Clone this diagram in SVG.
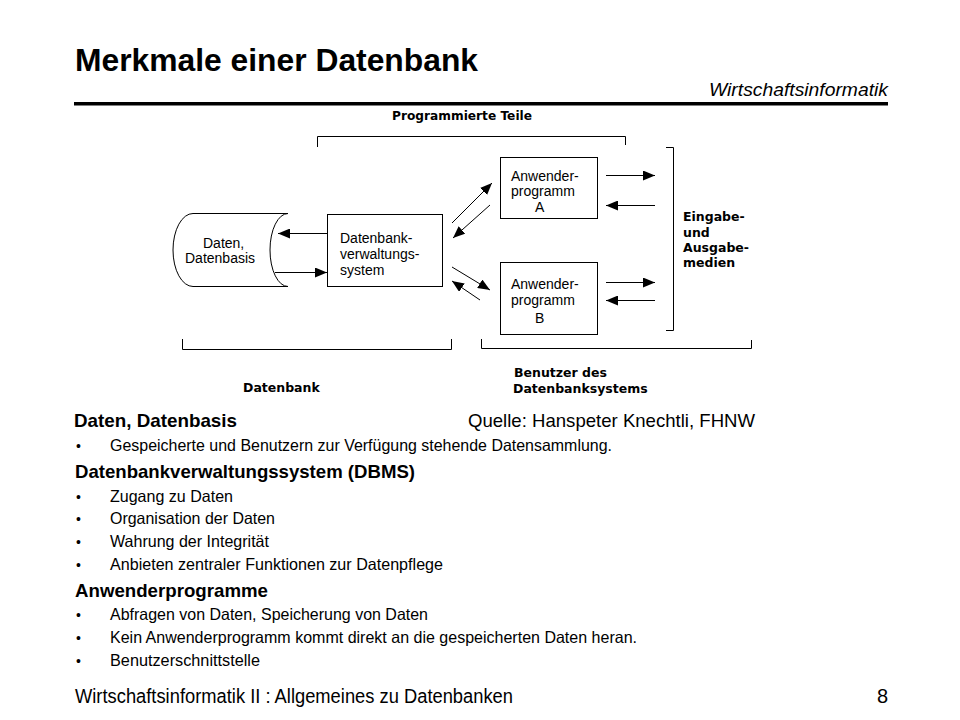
<svg xmlns="http://www.w3.org/2000/svg" width="960" height="720" viewBox="0 0 960 720">
<defs>
<style>
.t{font-family:"Liberation Sans",Arial,sans-serif;fill:#000}
.lbl{font-family:"Liberation Sans",Arial,sans-serif;font-size:14px;fill:#000}
.bl{font-family:"DejaVu Sans",Verdana,sans-serif;font-weight:bold;font-size:12.5px;fill:#000}
.h{font-family:"Liberation Sans",Arial,sans-serif;font-weight:bold;font-size:19px;fill:#000}
.b{font-family:"Liberation Sans",Arial,sans-serif;font-size:16.5px;fill:#000}
.dot{font-family:"Liberation Sans",Arial,sans-serif;font-size:14px;fill:#000}
.shape{fill:#fff;stroke:#000;stroke-width:1}
.br{fill:none;stroke:#000;stroke-width:1}
.c{fill:none;stroke:#000;stroke-width:1;marker-end:url(#ah)}
</style>
<marker id="ah" viewBox="0 0 12 10" refX="12" refY="5" markerWidth="12" markerHeight="10" markerUnits="userSpaceOnUse" orient="auto">
<path d="M0,0 L12,5 L0,10 z" fill="#000"/>
</marker>
</defs>
<rect width="960" height="720" fill="#fff"/>

<g id="header">
<text class="t" x="75" y="71" font-size="32" font-weight="bold" textLength="403" lengthAdjust="spacingAndGlyphs">Merkmale einer Datenbank</text>
<text class="t" x="709" y="96" font-size="18" font-style="italic" textLength="179" lengthAdjust="spacingAndGlyphs">Wirtschaftsinformatik</text>
<rect x="74" y="102" width="814" height="3.5" fill="#000"/>
</g>

<g id="brackets">
<path class="br" d="M317.5 147 V136.5 H625.5 V145"/>
<text class="bl" x="392" y="120" textLength="140" lengthAdjust="spacingAndGlyphs">Programmierte Teile</text>
<path class="br" d="M666 147.5 H673.5 V330.5 H666"/>
<path class="br" d="M182.5 339 V349.5 H451.5 V339"/>
<text class="bl" x="243" y="392">Datenbank</text>
<path class="br" d="M481.5 339 V348.5 H751.5 V340"/>
<text class="bl" x="514" y="377">Benutzer des</text>
<text class="bl" x="513" y="393">Datenbanksystems</text>
</g>

<g id="medien">
<text class="bl" x="683" y="221">Eingabe-</text>
<text class="bl" x="683" y="237">und</text>
<text class="bl" x="683" y="252">Ausgabe-</text>
<text class="bl" x="683" y="267">medien</text>
</g>

<g id="daten">
<path class="shape" d="M193 213.5 L288 213.5 A18 36.5 0 0 0 288 286.5 L193 286.5 A20 36.5 0 0 1 193 213.5 Z"/>
<text class="lbl" x="203" y="248">Daten,</text>
<text class="lbl" x="185" y="263">Datenbasis</text>
</g>

<g id="dbms">
<rect class="shape" x="327.5" y="214.5" width="115" height="72"/>
<text class="lbl" x="340" y="243">Datenbank-</text>
<text class="lbl" x="340" y="259">verwaltungs-</text>
<text class="lbl" x="340" y="275">system</text>
</g>

<g id="progA">
<rect class="shape" x="500.5" y="157.5" width="97" height="61"/>
<text class="lbl" x="511" y="181">Anwender-</text>
<text class="lbl" x="511" y="196">programm</text>
<text class="lbl" x="535" y="212">A</text>
</g>

<g id="progB">
<rect class="shape" x="500.5" y="262.5" width="97" height="72"/>
<text class="lbl" x="511" y="289">Anwender-</text>
<text class="lbl" x="511" y="305">programm</text>
<text class="lbl" x="535" y="323">B</text>
</g>

<g id="connectors">
<line class="c" x1="327" y1="233.5" x2="278" y2="233.5"/>
<line class="c" x1="275" y1="272.5" x2="327" y2="272.5"/>
<line class="c" x1="452" y1="223" x2="492" y2="183"/>
<line class="c" x1="490" y1="205" x2="453" y2="238"/>
<line class="c" x1="452" y1="267" x2="490" y2="290"/>
<line class="c" x1="480" y1="300" x2="452" y2="281"/>
<line class="c" x1="606" y1="175.5" x2="655" y2="175.5"/>
<line class="c" x1="655" y1="205.5" x2="606" y2="205.5"/>
<line class="c" x1="606" y1="282.5" x2="655" y2="282.5"/>
<line class="c" x1="655" y1="300.5" x2="606" y2="300.5"/>
</g>

<g id="body">
<text class="h" x="74" y="427" textLength="163" lengthAdjust="spacingAndGlyphs">Daten, Datenbasis</text>
<text class="t" x="468" y="427" font-size="19" textLength="287" lengthAdjust="spacingAndGlyphs">Quelle: Hanspeter Knechtli, FHNW</text>
<text class="dot" x="76" y="451">•</text>
<text class="b" x="110" y="451" textLength="502" lengthAdjust="spacingAndGlyphs">Gespeicherte und Benutzern zur Verfügung stehende Datensammlung.</text>
<text class="h" x="75" y="478" textLength="340" lengthAdjust="spacingAndGlyphs">Datenbankverwaltungssystem (DBMS)</text>
<text class="dot" x="76" y="502">•</text>
<text class="b" x="110" y="502" textLength="123" lengthAdjust="spacingAndGlyphs">Zugang zu Daten</text>
<text class="dot" x="76" y="524">•</text>
<text class="b" x="110" y="524" textLength="165" lengthAdjust="spacingAndGlyphs">Organisation der Daten</text>
<text class="dot" x="76" y="547">•</text>
<text class="b" x="110" y="547" textLength="159" lengthAdjust="spacingAndGlyphs">Wahrung der Integrität</text>
<text class="dot" x="76" y="570">•</text>
<text class="b" x="110" y="570" textLength="333" lengthAdjust="spacingAndGlyphs">Anbieten zentraler Funktionen zur Datenpflege</text>
<text class="h" x="75" y="597" textLength="193" lengthAdjust="spacingAndGlyphs">Anwenderprogramme</text>
<text class="dot" x="76" y="620">•</text>
<text class="b" x="110" y="620" textLength="318" lengthAdjust="spacingAndGlyphs">Abfragen von Daten, Speicherung von Daten</text>
<text class="dot" x="76" y="643">•</text>
<text class="b" x="110" y="643" textLength="527" lengthAdjust="spacingAndGlyphs">Kein Anwenderprogramm kommt direkt an die gespeicherten Daten heran.</text>
<text class="dot" x="76" y="666">•</text>
<text class="b" x="110" y="666" textLength="150" lengthAdjust="spacingAndGlyphs">Benutzerschnittstelle</text>
</g>

<g id="footer">
<text class="t" x="75" y="703" font-size="20" textLength="438" lengthAdjust="spacingAndGlyphs">Wirtschaftsinformatik II : Allgemeines zu Datenbanken</text>
<text class="t" x="888" y="703" font-size="20" text-anchor="end">8</text>
</g>
</svg>
